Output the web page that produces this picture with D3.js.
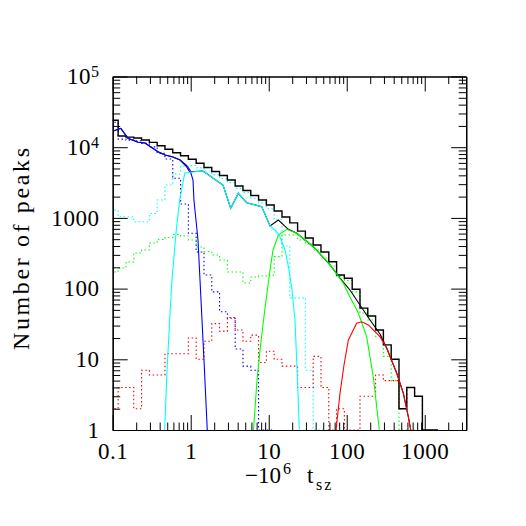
<!DOCTYPE html>
<html>
<head>
<meta charset="utf-8">
<script src="https://cdn.jsdelivr.net/npm/d3@7"></script>
<style>
  body { margin:0; background:#fff; }
  text { font-family:"Liberation Serif", serif; }
</style>
</head>
<body>
<svg id="chart" width="526" height="526"></svg>
<script>
// histogram bins: log10 of first left edge, width in dex
var binStart = -1.03, binWidth = 0.1;

// counts per bin
var histTotal = [24000,14400,13900,13500,12650,11700,10500,9340,8360,7580,6740,5920,5160,4530,3980,3440,2830,2440,2070,1790,1520,1250,1030,850,650,520,414,329,240,156,140,98,53,41,26,16,10,2,4,3,0,0];
var histBlue  = [22500,13000,12600,12300,11400,10100,8200,6810,3630,1573,606,330,156,90,47,38,14,8,7,0,0];
var histCyan  = [1294,1040,1040,884,884,1153,1791,2918,4178,5400,5500,5100,4600,4100,3600,3150,2620,2290,1900,1630,1350,940,400,74,74,7,0,0];
var histGreen = [172,196,238,319,352,442,495,528,582,555,487,387,333,299,254,172,172,120,146,151,155,283,573,573,487,427,352,271,209,150,130,90,45,36,21,11,5,0,0];
var histRed   = [2,4,4,2,7,6,6,12,12,12,20,10,18,32,25,39,26,18,22,9,13,10,8,8,4,4,11,4,0,2,0,0,3,3,6,5,5,2,4,3,0];

// model curves [x, N]
var modelBlue  = [[0.104,17100],[0.127,18500],[0.157,13360],[0.211,11730],[0.259,11470],[0.381,8630],[0.469,7760],[0.593,7260],[0.730,6590],[0.871,5600],[0.98,4760],[1.07,3435],[1.10,1791],[1.24,487],[1.355,69],[1.48,9.8],[1.63,1]];
var modelCyan  = [[0.464,1],[0.497,7.06],[0.538,36],[0.575,132],[0.653,674],[0.722,1791],[0.837,4275],[0.970,4415],[1.437,4606],[2.594,2919],[3.256,1367],[4.074,2228],[5.224,1641],[8.13,1440],[10.4,768],[12.4,653],[13.96,537],[16.18,352],[18.2,183],[19.9,95.5],[21.7,36],[23.1,7.06],[24.7,1]];
var modelGreen = [[6.38,1],[7.08,5.1],[7.73,13.5],[8.89,49.8],[10.4,183],[11.35,352],[13.3,573],[17.0,690],[22.9,606],[37.3,391],[61.1,216],[90.4,119],[110,76],[141,45.2],[180,20.9],[219,5.67],[262,1]];
var modelRed   = [[72.9,1],[82.0,3.3],[92.3,8.3],[105,18.8],[134,32.3],[156,34],[189,30.6],[267,20.9],[326,14.3],[438,6.34],[532,3.3],[616,1.54],[662,1]];
var modelTotal = [[0.104,17100],[0.127,18500],[0.157,13360],[0.211,11730],[0.259,11470],[0.381,8630],[0.469,7760],[0.593,7260],[0.730,6590],[0.871,5420],[0.970,4500],[1.437,4606],[2.594,2919],[3.256,1367],[4.074,2228],[5.224,1641],[8.13,1440],[10.4,768],[13.3,934],[17.8,690],[22.9,606],[37.3,391],[61.1,216],[82.0,141],[110,95.5],[163,49.8],[199,36],[267,22.8],[326,14.3],[438,6.34],[532,3.3],[616,1.54],[662,1]];

var xTicks = [0.1,1,10,100,1000];
var xTickLabels = ["0.1","1","10","100","1000"];
var yTicks = [1,10,100,1000,1e4,1e5];
var yTickBase = ["1","10","100","1000","10","10"];
var yTickExp  = ["","","","","4","5"];

function drawchart(){
    var pL=112.7, pR=466.2, pT=76.5, pB=430;
    var svg = d3.select("#chart");

    var x = d3.scaleLog().domain([0.1,3400]).range([pL,pR]);
    var y = d3.scaleLog().domain([1,1e5]).range([pB,pT]);

    svg.append("defs").append("clipPath").attr("id","plotclip")
       .append("rect").attr("x",pL).attr("y",pT).attr("width",pR-pL).attr("height",pB-pT);

    var plot = svg.append("g").attr("clip-path","url(#plotclip)");

    function histPoints(vals){
        var pts=[];
        for( var k=0; k < vals.length ; k++){
            pts.push([Math.pow(10,binStart+binWidth*k), vals[k]]);
        }
        pts.push([Math.pow(10,binStart+binWidth*vals.length), vals[vals.length-1]]);
        return pts;
    }

    var stepLine = d3.line()
        .x(function(d){ return x(d[0]); })
        .y(function(d){ return y(Math.max(d[1],1)); })
        .curve(d3.curveStepAfter);

    var curveLine = d3.line()
        .x(function(d){ return x(d[0]); })
        .y(function(d){ return y(Math.max(d[1],1)); });

    var dotted = [
        {vals:histBlue,  color:"#0000ff"},
        {vals:histCyan,  color:"#00ffff"},
        {vals:histGreen, color:"#00ff00"},
        {vals:histRed,   color:"#ff0000"}
    ];
    plot.selectAll(".dhist").data(dotted).enter().append("path")
        .attr("class","dhist")
        .attr("d",function(d){ return stepLine(histPoints(d.vals)); })
        .attr("fill","none")
        .attr("stroke",function(d){ return d.color; })
        .attr("stroke-width",1.1)
        .attr("stroke-dasharray","1.5,2.5");

    plot.append("path")
        .attr("d",stepLine(histPoints(histTotal)))
        .attr("fill","none").attr("stroke","#000").attr("stroke-width",1.4);

    plot.append("path")
        .attr("d",curveLine(modelTotal))
        .attr("fill","none").attr("stroke","#000").attr("stroke-width",1.1);

    var models = [
        {pts:modelBlue,  color:"#0000ff"},
        {pts:modelCyan,  color:"#00ffff"},
        {pts:modelGreen, color:"#00ff00"},
        {pts:modelRed,   color:"#ff0000"}
    ];
    plot.selectAll(".model").data(models).enter().append("path")
        .attr("class","model")
        .attr("d",function(d){ return curveLine(d.pts); })
        .attr("fill","none")
        .attr("stroke",function(d){ return d.color; })
        .attr("stroke-width",1.1);

    // axes, ticks pointing inwards on all four sides
    function isMajor(t){ return Math.abs(Math.log10(t)-Math.round(Math.log10(t))) < 1e-6; }
    var xMinor = x.ticks(10).filter(function(t){ return !isMajor(t); });
    var yMinor = y.ticks(10).filter(function(t){ return !isMajor(t); });

    function addAxis(gen, tx, ty){
        var g = svg.append("g").attr("transform","translate("+tx+","+ty+")").call(gen);
        g.select(".domain").attr("stroke","#000").attr("stroke-width",1.2);
        g.selectAll(".tick line").attr("stroke","#000").attr("stroke-width",1);
        g.selectAll("text").attr("font-family","Liberation Serif, serif").attr("font-size",23)
         .attr("letter-spacing",0.6).attr("fill","#000");
        return g;
    }

    addAxis(d3.axisBottom(x).tickValues(xMinor).tickSizeInner(-7.5).tickSizeOuter(0).tickFormat(""),0,pB);
    addAxis(d3.axisBottom(x).tickValues(xTicks).tickSizeInner(-15).tickSizeOuter(0).tickPadding(12.5)
            .tickFormat(function(d,i){ return xTickLabels[i]; }),0,pB);
    addAxis(d3.axisTop(x).tickValues(xMinor).tickSizeInner(-7.5).tickSizeOuter(0).tickFormat(""),0,pT);
    addAxis(d3.axisTop(x).tickValues(xTicks).tickSizeInner(-15).tickSizeOuter(0).tickFormat(""),0,pT);

    addAxis(d3.axisLeft(y).tickValues(yMinor).tickSizeInner(-7.5).tickSizeOuter(0).tickFormat(""),pL,0);
    var yg = addAxis(d3.axisLeft(y).tickValues(yTicks).tickSizeInner(-15).tickSizeOuter(0).tickPadding(13)
            .tickFormat(function(d,i){ return yTickBase[i]; }),pL,0);
    yg.selectAll(".tick text").each(function(d,i){
        if (yTickExp[i] != "") {
            d3.select(this).append("tspan").attr("dy","-0.45em").attr("font-size",16).text(yTickExp[i]);
        }
    });
    addAxis(d3.axisRight(y).tickValues(yMinor).tickSizeInner(-7.5).tickSizeOuter(0).tickFormat(""),pR,0);
    addAxis(d3.axisRight(y).tickValues(yTicks).tickSizeInner(-15).tickSizeOuter(0).tickFormat(""),pR,0);

    // axis titles
    svg.append("text")
        .attr("transform","translate(29,249) rotate(-90)")
        .attr("text-anchor","middle")
        .attr("font-size",24)
        .attr("textLength",202).attr("lengthAdjust","spacing")
        .text("Number of peaks");

    var xt = svg.append("text").attr("font-size",23).attr("y",483);
    xt.append("tspan").attr("x",245).text("\u221210");
    xt.append("tspan").attr("x",283).attr("y",474).attr("font-size",16).text("6");
    xt.append("tspan").attr("x",307).attr("y",483).text("t");
    xt.append("tspan").attr("x",316).attr("y",490).attr("font-size",16).attr("letter-spacing",2).text("sz");
}

drawchart();
</script>
</body>
</html>
